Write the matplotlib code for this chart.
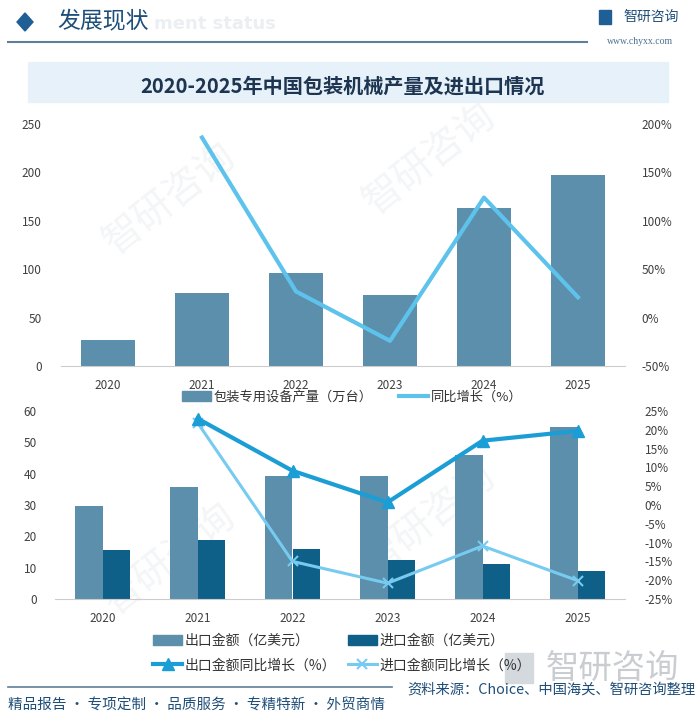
import numpy as np
import matplotlib
matplotlib.use("Agg")
import matplotlib.pyplot as plt
from matplotlib.patches import Rectangle, Patch, Polygon
from matplotlib.lines import Line2D

plt.rcParams['font.family'] = ['Noto Sans CJK SC', 'DejaVu Sans']

years = ["2020", "2021", "2022", "2023", "2024", "2025"]
output_units = [27, 75, 96, 73, 163, 197]          # 包装专用设备产量（万台）
output_yoy = [None, 186, 27, -24, 124, 21]         # 同比增长（%）
export_value = [29.6, 35.9, 39.3, 39.3, 45.8, 55.0]  # 出口金额（亿美元）
import_value = [15.6, 18.7, 16.0, 12.6, 11.2, 8.9]   # 进口金额（亿美元）
export_yoy = [None, 23.0, 9.1, 0.7, 17.1, 19.7]
import_yoy = [None, 21.9, -15.0, -20.8, -10.9, -20.1]

W, H = 700, 722
fig = plt.figure(figsize=(W / 100, H / 100), dpi=100)
fig.patch.set_facecolor("white")


def fx(px):
    return px / W


def fy(py):
    return 1 - py / H


bar_col = "#5b8fab"
imp_col = "#0f6089"
line_top = "#5ec3ec"
exp_line = "#1b9dd5"
imp_line = "#77cbf0"
tick_col = "#404040"
navy = "#1f4e79"

# faint watermarks, kept behind the axes
for (wx, wy) in [(170, 200), (430, 160), (170, 560), (430, 520)]:
    fig.text(fx(wx), fy(wy), "智研咨询", fontsize=28, color="#f3f5f7", rotation=38,
             ha="center", va="center", zorder=-5)

# header
fig.text(fx(154), fy(24), "ment status", fontsize=13, color="#eceff2", fontweight="bold",
         family="DejaVu Sans", va="center", ha="left", zorder=1)
fig.patches.append(Polygon([[fx(17), fy(22)], [fx(25), fy(13)], [fx(33), fy(22)], [fx(25), fy(31)]],
                           closed=True, transform=fig.transFigure, color="#1f5f96", zorder=2))
fig.text(fx(57), fy(21), "发展现状", fontsize=16.5, color=navy, va="center", ha="left", zorder=2)
fig.lines.append(Line2D([fx(8), fx(587)], [fy(42), fy(42)], transform=fig.transFigure,
                        color="#5f7f99", lw=1.5))
fig.patches.append(Rectangle((fx(599), fy(24)), fx(12), 14 / H, transform=fig.transFigure,
                             color="#1f5f96"))
fig.text(fx(623), fy(17), "智研咨询", fontsize=10, color=navy, va="center", ha="left")
fig.text(fx(640), fy(41), "www.chyxx.com", fontsize=7, color="#4a6f8f", va="center", ha="center",
         family="Liberation Serif")

# title box
fig.patches.append(Rectangle((fx(28), fy(102)), fx(640), 40 / H, transform=fig.transFigure,
                             color="#e6f1f9", zorder=-4))
fig.text(fx(342), fy(86), "2020-2025年中国包装机械产量及进出口情况", fontsize=14.5,
         fontweight="bold", color="#1d3550", ha="center", va="center", zorder=2)

# ---- top chart ----
x = np.arange(len(years))
ax1 = fig.add_axes([fx(61), fy(366), 564 / W, 242 / H])
ax1.patch.set_alpha(0)
ax1.bar(x, output_units, width=0.57, color=bar_col, zorder=2)
ax1.set_xlim(-0.5, 5.5)
ax1.set_ylim(0, 250)
ax1.set_yticks(np.arange(0, 251, 50))
ax1.set_xticks(x)
ax1.set_xticklabels(years)
for s in ["top", "left", "right"]:
    ax1.spines[s].set_visible(False)
ax1.spines["bottom"].set_color("#cccccc")
ax1.tick_params(length=0, labelsize=8.5, labelcolor=tick_col)
ax1.tick_params(axis="x", pad=9)
ax1.tick_params(axis="y", pad=14)

ax1r = ax1.twinx()
yy = [np.nan if v is None else v for v in output_yoy]
ax1r.plot(x, yy, color=line_top, lw=3, zorder=3)
ax1r.set_ylim(-50, 200)
ax1r.set_yticks(np.arange(-50, 201, 50))
ax1r.set_yticklabels([f"{v}%" for v in range(-50, 201, 50)])
for s in ["top", "left", "right", "bottom"]:
    ax1r.spines[s].set_visible(False)
ax1r.tick_params(length=0, labelsize=8.5, labelcolor=tick_col, pad=12)

h1 = [Patch(color=bar_col), Line2D([], [], color=line_top, lw=3)]
fig.legend(h1, ["包装专用设备产量（万台）", "同比增长（%）"], loc="center",
           bbox_to_anchor=(fx(352), fy(397)), ncol=2, frameon=False, fontsize=9.5,
           handlelength=2.2, handleheight=0.7, handletextpad=0.2, columnspacing=2.0,
           labelcolor="#333333")

# ---- bottom chart ----
ax2 = fig.add_axes([fx(55), fy(599), 570 / W, 188 / H])
ax2.patch.set_alpha(0)
bw = 0.285
ax2.bar(x - bw / 2, export_value, width=bw, color=bar_col, zorder=2)
ax2.bar(x + bw / 2, import_value, width=bw, color=imp_col, zorder=2)
ax2.set_xlim(-0.5, 5.5)
ax2.set_ylim(0, 60)
ax2.set_yticks(np.arange(0, 61, 10))
ax2.set_xticks(x)
ax2.set_xticklabels(years)
for s in ["top", "left", "right"]:
    ax2.spines[s].set_visible(False)
ax2.spines["bottom"].set_color("#cccccc")
ax2.tick_params(length=0, labelsize=8.5, labelcolor=tick_col)
ax2.tick_params(axis="x", pad=9)
ax2.tick_params(axis="y", pad=13)

ax2r = ax2.twinx()
ey = [np.nan if v is None else v for v in export_yoy]
iy = [np.nan if v is None else v for v in import_yoy]
ax2r.plot(x, ey, color=exp_line, lw=3, marker="^", ms=8, zorder=4)
ax2r.plot(x, iy, color=imp_line, lw=2.2, marker="x", ms=7, mew=1.5, zorder=3)
ax2r.set_ylim(-25, 25)
ax2r.set_yticks(np.arange(-25, 26, 5))
ax2r.set_yticklabels([f"{v}%" for v in range(-25, 26, 5)])
for s in ["top", "left", "right", "bottom"]:
    ax2r.spines[s].set_visible(False)
ax2r.tick_params(length=0, labelsize=8.5, labelcolor=tick_col, pad=14)

h2 = [Patch(color=bar_col),
      Line2D([], [], color=exp_line, lw=3, marker="^", ms=8),
      Patch(color=imp_col),
      Line2D([], [], color=imp_line, lw=2.2, marker="x", ms=7, mew=1.5)]
l2 = ["出口金额（亿美元）", "出口金额同比增长（%）", "进口金额（亿美元）", "进口金额同比增长（%）"]
fig.legend(h2, l2, loc="center", bbox_to_anchor=(fx(342), fy(653)), ncol=2, frameon=False,
           fontsize=10, handlelength=2.1, handleheight=0.7, handletextpad=0.2,
           columnspacing=0.8, labelspacing=0.75, labelcolor="#333333")

# ---- footer ----
fig.patches.append(Rectangle((fx(505), fy(683)), fx(28), 30 / H, transform=fig.transFigure,
                             color="#d4d9de", zorder=1))
fig.text(fx(612), fy(668), "智研咨询", fontsize=24, color="#c9cdd1", ha="center", va="center",
         zorder=1)
fig.lines.append(Line2D([fx(8), fx(392)], [fy(687), fy(687)], transform=fig.transFigure,
                        color="#5f7f99", lw=1.2))
fig.text(fx(8), fy(706), "精品报告 · 专项定制 · 品质服务 · 专精特新 · 外贸商情", fontsize=10.5,
         color=navy, ha="left", va="center")
fig.text(fx(695), fy(690), "资料来源：Choice、中国海关、智研咨询整理", fontsize=10.3,
         color=navy, ha="right", va="center", zorder=3)

fig.savefig("out.png", dpi=100, facecolor="white")
